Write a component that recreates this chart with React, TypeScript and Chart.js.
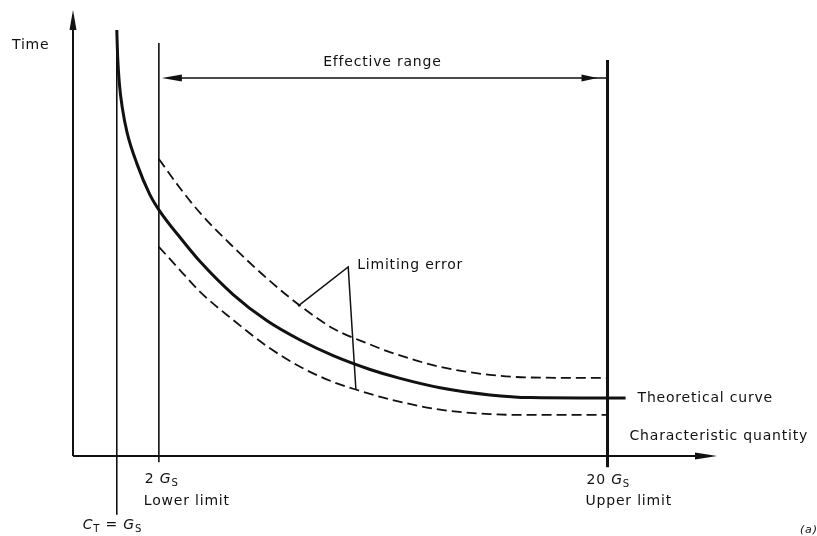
import React, { useEffect, useRef } from "react";
import { Chart, registerables } from "chart.js";

Chart.register(...registerables);

// Schematic scales (diagram is not to scale): x = characteristic quantity, y = time
const X_MIN = 0;
const X_MAX = 15;
const Y_MIN = 0;
const Y_MAX = 10;

const X_CT = 1.02; // C_T = G_S
const X_LOWER = 2.0; // 2 G_S  (lower limit)
const X_UPPER = 12.45; // 20 G_S (upper limit)

// Theoretical curve
const theoX = [1.02, 1.04, 1.08, 1.15, 1.26, 1.49, 1.79, 2.0, 2.56, 2.96, 3.73, 4.52, 5.29, 6.06, 6.92, 7.62, 8.55, 9.71, 10.65, 12.45];
const theoY = [9.55, 8.95, 8.35, 7.8, 7.25, 6.55, 5.86, 5.52, 4.82, 4.36, 3.62, 3.03, 2.6, 2.25, 1.94, 1.74, 1.53, 1.37, 1.31, 1.3];

// Limiting error band (upper / lower dashed curves)
const upperX = [2.0, 2.49, 2.96, 3.73, 4.52, 5.29, 6.06, 6.92, 7.38, 8.55, 9.71, 10.65, 12.45];
const upperY = [6.66, 6.01, 5.45, 4.69, 3.98, 3.37, 2.86, 2.5, 2.33, 2.0, 1.82, 1.76, 1.75];
const lowerX = [2.0, 2.49, 2.96, 3.73, 4.52, 5.29, 6.06, 6.62, 7.38, 8.55, 9.71, 10.65, 12.45];
const lowerY = [4.69, 4.17, 3.68, 3.05, 2.46, 2.0, 1.66, 1.48, 1.27, 1.04, 0.94, 0.92, 0.92];

// Vertical marker lines (y extents)
const ctLineY = [9.55, -1.32];
const lowerLineY = [9.26, -0.14];
const upperLineY = [8.88, -0.25];

// Effective range arrow level
const EFFECTIVE_Y = 8.475;

// "Limiting error" leader lines
const errX = [5.24, 6.41, 6.59];
const errY = [3.36, 4.24, 1.48];

// Theoretical curve label leader
const theoLeaderX = [12.45, 12.87];
const theoLeaderY = [1.3, 1.3];

const pts = (xs: number[], ys: number[]) => xs.map((x, i) => ({ x, y: ys[i] }));

type Part = { t: string; italic?: boolean; sub?: boolean };

const FONT = '"DejaVu Sans", sans-serif';

function drawRich(ctx: CanvasRenderingContext2D, parts: Part[], x: number, y: number, size: number) {
  let cx = x;
  for (const p of parts) {
    const s = p.sub ? size * 0.72 : size;
    ctx.font = `${p.italic ? "italic " : ""}${s}px ${FONT}`;
    const dy = p.sub ? size * 0.3 : 0;
    ctx.fillText(p.t, cx, y + dy);
    cx += ctx.measureText(p.t).width;
  }
}

const diagramPlugin = {
  id: "diagram",
  afterDatasetsDraw(chart: any) {
    const ctx: CanvasRenderingContext2D = chart.ctx;
    const { left, right, top, bottom } = chart.chartArea;
    const xs = chart.scales.x;
    const ys = chart.scales.y;
    const X = (v: number) => xs.getPixelForValue(v);
    const Y = (v: number) => ys.getPixelForValue(v);
    ctx.save();
    ctx.strokeStyle = "#111";
    ctx.fillStyle = "#111";

    // Axes
    ctx.lineWidth = 2;
    ctx.beginPath();
    ctx.moveTo(left, bottom);
    ctx.lineTo(left, top + 12);
    ctx.moveTo(left, bottom);
    ctx.lineTo(right - 12, bottom);
    ctx.stroke();
    // y arrow
    ctx.beginPath();
    ctx.moveTo(left, top);
    ctx.lineTo(left - 3.5, top + 20);
    ctx.lineTo(left + 3.5, top + 20);
    ctx.closePath();
    ctx.fill();
    // x arrow
    ctx.beginPath();
    ctx.moveTo(right, bottom);
    ctx.lineTo(right - 22, bottom - 3.5);
    ctx.lineTo(right - 22, bottom + 3.5);
    ctx.closePath();
    ctx.fill();

    // Effective range double arrow
    const ey = Y(EFFECTIVE_Y);
    const ex1 = X(X_LOWER) + 3;
    const ex2 = X(X_UPPER) - 1;
    ctx.lineWidth = 1.6;
    ctx.beginPath();
    ctx.moveTo(ex1 + 10, ey);
    ctx.lineTo(ex2, ey);
    ctx.stroke();
    ctx.beginPath();
    ctx.moveTo(ex1, ey);
    ctx.lineTo(ex1 + 20, ey - 3.5);
    ctx.lineTo(ex1 + 20, ey + 3.5);
    ctx.closePath();
    ctx.fill();
    const tip = X(X_UPPER) - 10;
    ctx.beginPath();
    ctx.moveTo(tip, ey);
    ctx.lineTo(tip - 16, ey - 3.5);
    ctx.lineTo(tip - 16, ey + 3.5);
    ctx.closePath();
    ctx.fill();

    // Texts
    (ctx as any).letterSpacing = "0.8px";
    ctx.textBaseline = "middle";
    ctx.textAlign = "left";
    const size = 14;
    ctx.font = `${size}px ${FONT}`;
    ctx.fillText("Time", left - 61, top + 35);
    ctx.fillText("Effective range", (X(X_LOWER) + X(X_UPPER)) / 2 - 60, ey - 16);
    ctx.fillText("Limiting error", X(errX[1]) + 9, Y(errY[1]) - 2);
    ctx.fillText("Theoretical curve", X(theoLeaderX[1]) + 12, Y(theoLeaderY[1]));
    ctx.fillText("Characteristic quantity", X(X_UPPER) + 22, bottom - 20);

    drawRich(ctx, [{ t: "2 " }, { t: "G", italic: true }, { t: "S", sub: true }], X(X_LOWER) - 14, bottom + 23, size);
    ctx.font = `${size}px ${FONT}`;
    ctx.fillText("Lower limit", X(X_LOWER) - 15, bottom + 45);
    drawRich(ctx, [{ t: "C", italic: true }, { t: "T", sub: true }, { t: " = " }, { t: "G", italic: true }, { t: "S", sub: true }], X(X_CT) - 34, bottom + 69, size);
    drawRich(ctx, [{ t: "20 " }, { t: "G", italic: true }, { t: "S", sub: true }], X(X_UPPER) - 21, bottom + 24, size);
    ctx.font = `${size}px ${FONT}`;
    ctx.fillText("Upper limit", X(X_UPPER) - 22, bottom + 45);

    ctx.font = `italic 11px ${FONT}`;
    ctx.fillText("(a)", right + 83, bottom + 74);
    ctx.restore();
  },
};

export default function App() {
  const ref = useRef<HTMLCanvasElement | null>(null);

  useEffect(() => {
    if (!ref.current) return;
    const base = { pointRadius: 0, borderColor: "#111", showLine: true, clip: false as any, fill: false };
    const chart = new Chart(ref.current, {
      type: "scatter",
      data: {
        datasets: [
          { ...base, label: "Theoretical curve", data: pts(theoX, theoY), borderWidth: 3, cubicInterpolationMode: "monotone" },
          { ...base, label: "Upper limiting error", data: pts(upperX, upperY), borderWidth: 1.8, borderDash: [10, 5], cubicInterpolationMode: "monotone" },
          { ...base, label: "Lower limiting error", data: pts(lowerX, lowerY), borderWidth: 1.8, borderDash: [10, 5], cubicInterpolationMode: "monotone" },
          { ...base, label: "C_T", data: pts([X_CT, X_CT], ctLineY), borderWidth: 1.6 },
          { ...base, label: "Lower limit", data: pts([X_LOWER, X_LOWER], lowerLineY), borderWidth: 1.6 },
          { ...base, label: "Upper limit", data: pts([X_UPPER, X_UPPER], upperLineY), borderWidth: 3 },
          { ...base, label: "Limiting error", data: pts(errX, errY), borderWidth: 1.5 },
          { ...base, label: "Leader", data: pts(theoLeaderX, theoLeaderY), borderWidth: 3 },
        ] as any,
      },
      options: {
        animation: false,
        responsive: true,
        maintainAspectRatio: false,
        layout: { padding: { left: 73, right: 100, top: 10, bottom: 80 } },
        scales: {
          x: { type: "linear", min: X_MIN, max: X_MAX, display: false },
          y: { type: "linear", min: Y_MIN, max: Y_MAX, display: false },
        },
        plugins: { legend: { display: false }, tooltip: { enabled: false } },
        events: [],
      },
      plugins: [diagramPlugin],
    });
    return () => chart.destroy();
  }, []);

  return (
    <div style={{ position: "fixed", left: 0, top: 0, width: 817, height: 536, background: "#fff" }}>
      <canvas ref={ref} />
    </div>
  );
}
